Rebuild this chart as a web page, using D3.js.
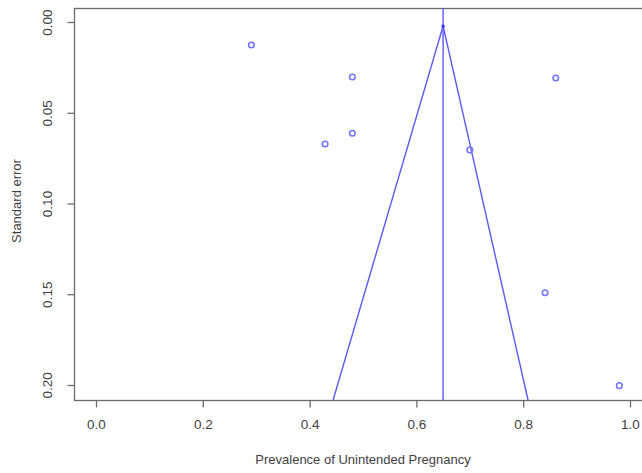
<!DOCTYPE html>
<html>
<head>
<meta charset="utf-8">
<script src="https://cdn.jsdelivr.net/npm/d3@7"></script>
<style>
  html, body { margin: 0; padding: 0; background: #fff; }
  svg { display: block; font-family: "Liberation Sans", Arial, sans-serif; }
</style>
</head>
<body>
<div id="chart"></div>
<script>
// study estimates: prevalence and standard error
const prevalence = [0.291, 0.480, 0.480, 0.429, 0.861, 0.700, 0.841, 0.980];
const standardError = [0.0124, 0.0300, 0.0610, 0.0669, 0.0306, 0.0702, 0.1489, 0.2001];

// pooled estimate and funnel limits
const pooledEstimate = 0.65;
const funnelApexSe = 0.002;
const funnelBottomSe = 0.208;
const funnelLower = 0.444;
const funnelUpper = 0.809;

const xTicks = [0, 0.2, 0.4, 0.6, 0.8, 1.0];
const yTicks = [0, 0.05, 0.10, 0.15, 0.20];

const WIDTH = 642;
const HEIGHT = 473;
const PLOT_LEFT = 74;
const PLOT_TOP = 8;
const PLOT_BOTTOM = 400;
const X_ZERO = 96;
const X_ONE = 630;
const LINE_COLOR = '#5a5aff';
const POINT_COLOR = '#7272ff';
const AXIS_COLOR = '#6b6b6b';
const TEXT_COLOR = '#3f3f3f';
const FONT = 'Liberation Sans, Arial, sans-serif';

const svg = d3
  .select('#chart')
  .append('svg')
  .attr('width', WIDTH)
  .attr('height', HEIGHT);

const x = d3.scaleLinear().domain([0, 1]).range([X_ZERO, X_ONE]);
const y = d3.scaleLinear().domain([-0.008, 0.208]).range([PLOT_TOP, PLOT_BOTTOM]);
const plotRight = x(1.04);

// plot frame (right side runs off the picture)
svg
  .append('rect')
  .attr('x', PLOT_LEFT + 0.5)
  .attr('y', PLOT_TOP + 0.5)
  .attr('width', plotRight - PLOT_LEFT)
  .attr('height', PLOT_BOTTOM - PLOT_TOP)
  .attr('fill', 'none')
  .attr('stroke', AXIS_COLOR)
  .attr('stroke-width', 1.3);

// x axis
const xAxis = svg
  .append('g')
  .attr('transform', `translate(0,${PLOT_BOTTOM + 0.5})`)
  .call(d3.axisBottom(x).tickValues(xTicks).tickFormat(d3.format('.1f')).tickSize(7).tickPadding(12));
xAxis.select('.domain').remove();
xAxis.selectAll('line').attr('stroke', AXIS_COLOR).attr('stroke-width', 1.3);
xAxis.selectAll('text').attr('fill', TEXT_COLOR).attr('font-size', '13.5px').attr('font-family', FONT);

// y axis with rotated labels
const yAxis = svg
  .append('g')
  .attr('transform', `translate(${PLOT_LEFT + 0.5},0)`)
  .call(d3.axisLeft(y).tickValues(yTicks).tickFormat(d3.format('.2f')).tickSize(7));
yAxis.select('.domain').remove();
yAxis.selectAll('.tick').attr('transform', null);
yAxis.selectAll('.tick line').attr('stroke', AXIS_COLOR).attr('stroke-width', 1.3).attr('transform', (d) => `translate(0,${y(d)})`);
yAxis
  .selectAll('.tick text')
  .attr('fill', TEXT_COLOR)
  .attr('font-size', '13.5px')
  .attr('font-family', FONT)
  .attr('x', null)
  .attr('y', null)
  .attr('dy', null)
  .attr('text-anchor', 'middle')
  .attr('dominant-baseline', 'central')
  .attr('transform', (d) => `translate(${47 - PLOT_LEFT},${y(d)}) rotate(-90)`);

// axis titles
svg
  .append('text')
  .attr('x', 363)
  .attr('y', 464)
  .attr('text-anchor', 'middle')
  .attr('font-size', '13px')
  .attr('fill', TEXT_COLOR)
  .text('Prevalence of Unintended Pregnancy');

svg
  .append('text')
  .attr('transform', `translate(21,201) rotate(-90)`)
  .attr('text-anchor', 'middle')
  .attr('font-size', '13px')
  .attr('fill', TEXT_COLOR)
  .text('Standard error');

// funnel
const funnel = [
  [funnelLower, funnelBottomSe],
  [pooledEstimate, funnelApexSe],
  [funnelUpper, funnelBottomSe],
];
svg
  .append('path')
  .attr('d', d3.line().x((d) => x(d[0])).y((d) => y(d[1]))(funnel))
  .attr('fill', 'none')
  .attr('stroke', LINE_COLOR)
  .attr('stroke-width', 1.4);

svg
  .append('line')
  .attr('x1', x(pooledEstimate))
  .attr('x2', x(pooledEstimate))
  .attr('y1', PLOT_TOP)
  .attr('y2', PLOT_BOTTOM)
  .attr('stroke', LINE_COLOR)
  .attr('stroke-width', 1.4);

svg
  .append('circle')
  .attr('cx', x(pooledEstimate))
  .attr('cy', y(funnelApexSe))
  .attr('r', 1.6)
  .attr('fill', '#3030ff');

// study points
svg
  .append('g')
  .selectAll('circle')
  .data(prevalence)
  .join('circle')
  .attr('cx', (d) => x(d))
  .attr('cy', (d, i) => y(standardError[i]))
  .attr('r', 2.8)
  .attr('fill', 'none')
  .attr('stroke', POINT_COLOR)
  .attr('stroke-width', 1.5);
</script>
</body>
</html>
